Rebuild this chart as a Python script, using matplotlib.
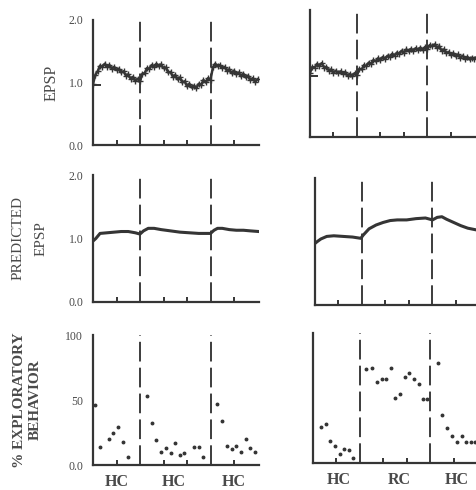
import numpy as np
import matplotlib
matplotlib.use("Agg")
import matplotlib.pyplot as plt
from matplotlib.ticker import FixedLocator

plt.rcParams['font.family'] = ['Liberation Serif', 'DejaVu Serif']

# ---------------- data ----------------
epsp_left = [0.98, 1.12, 1.18, 1.27, 1.25, 1.30, 1.25, 1.28, 1.22, 1.25, 1.20, 1.22, 1.16, 1.18, 1.11,
             1.13, 1.06, 1.09, 1.03, 1.06, 1.02, 1.14, 1.15, 1.23, 1.22, 1.28, 1.25, 1.30, 1.26, 1.29,
             1.23, 1.24, 1.16, 1.17, 1.09, 1.12, 1.05, 1.08, 1.00, 1.02, 0.94, 0.98, 0.92, 0.95, 0.91,
             0.98, 0.96, 1.04, 1.00, 1.07, 1.04, 1.24, 1.30, 1.26, 1.28, 1.23, 1.25, 1.19, 1.21, 1.15,
             1.19, 1.13, 1.16, 1.10, 1.14, 1.08, 1.11, 1.04, 1.07, 1.01, 1.05]
epsp_right = [1.03, 1.12, 1.11, 1.17, 1.14, 1.18, 1.11, 1.12, 1.06, 1.08, 1.03, 1.06, 1.02, 1.05, 1.01,
              1.04, 0.98, 1.01, 0.97, 1.02, 0.99, 1.09, 1.08, 1.15, 1.13, 1.19, 1.17, 1.23, 1.21, 1.26,
              1.23, 1.28, 1.25, 1.30, 1.28, 1.33, 1.30, 1.35, 1.33, 1.38, 1.35, 1.40, 1.37, 1.41, 1.38,
              1.42, 1.39, 1.43, 1.39, 1.44, 1.41, 1.47, 1.45, 1.48, 1.43, 1.45, 1.38, 1.40, 1.34, 1.36,
              1.31, 1.34, 1.29, 1.32, 1.27, 1.30, 1.25, 1.28, 1.24, 1.27, 1.25, 1.28]
epsp_time_left = np.round(np.arange(len(epsp_left)) * 0.1, 1)
epsp_time_right = np.round(np.arange(len(epsp_right)) * 0.1, 1)

pred_left_x = [0.0, 0.12, 0.3, 0.6, 0.9, 1.2, 1.5, 1.8, 2.0, 2.15, 2.35, 2.6, 2.9, 3.3, 3.7, 4.1,
               4.5, 4.9, 5.0, 5.15, 5.3, 5.5, 5.8, 6.1, 6.4, 6.7, 7.05]
pred_left_y = [0.96, 1.00, 1.08, 1.09, 1.10, 1.11, 1.11, 1.09, 1.07, 1.12, 1.16, 1.16, 1.14, 1.12,
               1.10, 1.09, 1.08, 1.08, 1.08, 1.13, 1.16, 1.16, 1.14, 1.13, 1.13, 1.12, 1.11]
pred_right_x = [0.0, 0.1, 0.25, 0.5, 0.8, 1.2, 1.6, 1.95, 2.05, 2.3, 2.6, 2.9, 3.2, 3.5, 3.9, 4.3,
                4.7, 5.0, 5.2, 5.4, 5.6, 5.9, 6.2, 6.5, 6.9]
pred_right_y = [0.97, 1.00, 1.04, 1.08, 1.09, 1.08, 1.07, 1.05, 1.10, 1.20, 1.26, 1.30, 1.33, 1.34,
                1.34, 1.36, 1.37, 1.34, 1.38, 1.39, 1.35, 1.30, 1.25, 1.21, 1.18]

expl_left_x = [0.1, 0.3, 0.68, 0.87, 1.08, 1.29, 1.5, 2.28, 2.5, 2.68, 2.89, 3.09, 3.3, 3.49, 3.7,
               3.89, 4.3, 4.51, 4.7, 5.26, 5.5, 5.69, 5.9, 6.08, 6.28, 6.5, 6.68, 6.89]
expl_left_y = [46, 14, 20, 25, 29, 18, 6, 53, 32, 19, 10, 13, 9, 17, 8,
               9, 14, 14, 6, 47, 34, 15, 12, 15, 10, 20, 13, 10]
expl_right_x = [0.35, 0.57, 0.74, 0.92, 1.13, 1.34, 1.53, 1.72, 2.26, 2.52, 2.71, 2.92, 3.11, 3.32,
                3.5, 3.7, 3.91, 4.1, 4.31, 4.52, 4.7, 4.87, 5.33, 5.51, 5.72, 5.9, 6.12, 6.32, 6.53,
                6.71, 6.9]
expl_right_y = [28, 30, 17, 13, 7, 11, 10, 4, 72, 73, 62, 65, 65, 73, 50, 53, 66, 69, 65, 61, 49,
                49, 77, 37, 27, 21, 16, 21, 16, 16, 16]

session_bounds = [2, 5]
minor_ticks = [1, 3, 4, 6]
left_conditions = ["HC", "HC", "HC"]
left_cond_x = [1.0, 3.45, 6.0]
right_conditions = ["HC", "RC", "HC"]
right_cond_x = [1.1, 3.65, 6.1]

# ---------------- figure ----------------
W, H = 477, 490
fig = plt.figure(figsize=(W / 100, H / 100), dpi=100)
INK = '#353535'
TXT = '#4a4a4a'
PX = 23.5  # pixels per x-unit


def make_ax(x0, ytop, ybot, xmax):
    return fig.add_axes([x0 / W, 1 - ybot / H, xmax * PX / W, (ybot - ytop) / H])


def style(ax, xmax, ylim, yticks, ylabels, inner_tick):
    ax.set_xlim(0, xmax)
    ax.set_ylim(*ylim)
    for s in ['top', 'right']:
        ax.spines[s].set_visible(False)
    for s in ['left', 'bottom']:
        ax.spines[s].set_color(INK)
        ax.spines[s].set_linewidth(1.6)
    ax.set_xticks(minor_ticks)
    ax.set_xticklabels([])
    ax.tick_params(axis='x', direction='in', length=3.5, width=1.4, color=INK)
    ax.set_yticks(yticks)
    ax.set_yticklabels(ylabels)
    ax.tick_params(axis='y', which='major', length=0, pad=7, labelsize=8.5, labelcolor=TXT)
    if inner_tick is not None:
        ax.yaxis.set_minor_locator(FixedLocator([inner_tick]))
        ax.tick_params(axis='y', which='minor', direction='in', length=6, width=1.4, color=INK)
    for b in session_bounds:
        ax.axvline(b, color=INK, lw=1.35, dashes=(10.5, 3.3))


# top row
axTL = make_ax(93, 20, 145, 7.06)
style(axTL, 7.06, (0, 2), [0, 1, 2], ['0.0', '1.0', '2.0'], 0.96)
axTL.plot(epsp_time_left, epsp_left, color=INK, lw=1.8)
axTL.plot(epsp_time_left, epsp_left, ls='none', marker='+', ms=4, mew=1.0, color=INK)
axTL.set_ylabel('EPSP', fontsize=11.5, color=TXT, labelpad=6)

axTR = make_ax(310, 10, 137, 7.08)
style(axTR, 7.08, (0, 2.03), [0, 1, 2], ['', '', ''], 0.97)
axTR.plot(epsp_time_right, epsp_right, color=INK, lw=1.8)
axTR.plot(epsp_time_right, epsp_right, ls='none', marker='+', ms=4, mew=1.0, color=INK)

# middle row
axML = make_ax(93, 175, 302, 7.06)
style(axML, 7.06, (0, 2), [0, 1, 2], ['0.0', '1.0', '2.0'], None)
axML.plot(pred_left_x, pred_left_y, color=INK, lw=2.2)
axML.set_ylabel('PREDICTED\nEPSP', fontsize=11, color=TXT, labelpad=15, linespacing=2.0)

axMR = make_ax(315, 178, 305, 6.9)
style(axMR, 6.9, (0, 2), [0, 1, 2], ['', '', ''], None)
axMR.plot(pred_right_x, pred_right_y, color=INK, lw=2.2)

# bottom row
axBL = make_ax(93, 335, 465, 7.06)
style(axBL, 7.06, (0, 100), [0, 50, 100], ['0.0', '50', '100'], 50)
axBL.plot(expl_left_x, expl_left_y, ls='none', marker='o', ms=1.8, color=INK)
axBL.set_ylabel('% EXPLORATORY\nBEHAVIOR', fontsize=11, fontweight='bold', color=TXT,
                labelpad=17, linespacing=1.25)

axBR = make_ax(313, 333, 463, 6.95)
style(axBR, 6.95, (0, 100), [0, 50, 100], ['', '', ''], 50)
axBR.plot(expl_right_x, expl_right_y, ls='none', marker='o', ms=1.8, color=INK)

for ax, labs, xs in [(axBL, left_conditions, left_cond_x), (axBR, right_conditions, right_cond_x)]:
    for lab, x in zip(labs, xs):
        ax.annotate(lab, xy=(x, 0), xycoords=('data', 'axes fraction'), xytext=(0, -12),
                    textcoords='offset points', ha='center', va='center', fontsize=11.5,
                    fontweight='bold', color=TXT)

fig.savefig('out.png', dpi=100, facecolor='white')
